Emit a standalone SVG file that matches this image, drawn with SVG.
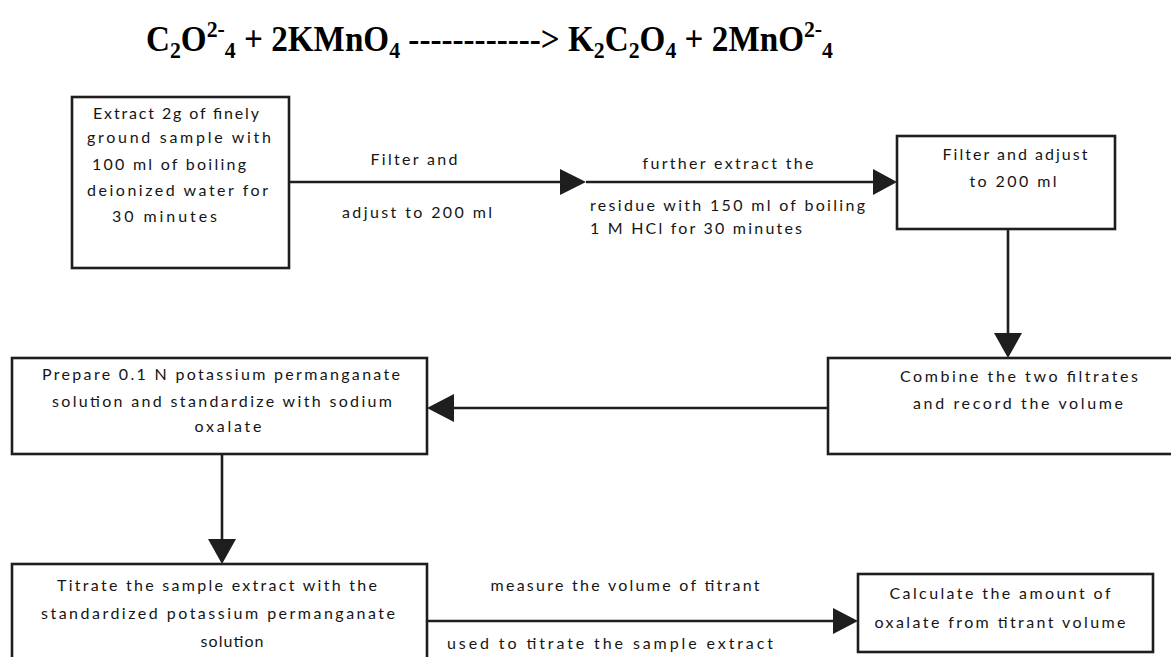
<svg xmlns="http://www.w3.org/2000/svg" width="1171" height="657" viewBox="0 0 1171 657">
<style>
.box{fill:#fff;stroke:#1e1e1e;stroke-width:2.6}
.ln{stroke:#1e1e1e;stroke-width:2.6;fill:none}
.ah{fill:#1e1e1e}
.t{font-family:Lato,"Open Sans",sans-serif;font-size:16px;fill:#151515}
.c{text-anchor:middle}
.eq{font-family:"Liberation Serif","Times New Roman",serif;font-weight:bold;font-size:35px;fill:#000}
.sb{font-size:23px}
</style>
<rect width="1171" height="657" fill="#fff"/>
<text class="eq" x="146" y="51" textLength="687" lengthAdjust="spacingAndGlyphs">C<tspan class="sb" dy="7">2</tspan><tspan dy="-7">O</tspan><tspan class="sb" dy="-14">2-</tspan><tspan class="sb" dy="21">4</tspan><tspan dy="-7"> + 2KMnO</tspan><tspan class="sb" dy="7">4</tspan><tspan dy="-7"> ------------&gt; K</tspan><tspan class="sb" dy="7">2</tspan><tspan dy="-7">C</tspan><tspan class="sb" dy="7">2</tspan><tspan dy="-7">O</tspan><tspan class="sb" dy="7">4</tspan><tspan dy="-7"> + 2MnO</tspan><tspan class="sb" dy="-14">2-</tspan><tspan class="sb" dy="21">4</tspan></text>

<g id="connectors">
<line class="ln" x1="289" y1="182" x2="562" y2="182"/><polygon class="ah" points="560,169 586,182 560,195"/>
<line class="ln" x1="586" y1="182" x2="875" y2="182"/><polygon class="ah" points="873,169 897,182 873,195"/>
<line class="ln" x1="1008" y1="229" x2="1008" y2="335"/><polygon class="ah" points="994,333 1022,333 1008,358"/>
<line class="ln" x1="828" y1="408" x2="452" y2="408"/><polygon class="ah" points="454,394 454,422 427,408"/>
<line class="ln" x1="222" y1="454" x2="222" y2="541"/><polygon class="ah" points="208,539 236,539 222,564"/>
<line class="ln" x1="427" y1="621" x2="835" y2="621"/><polygon class="ah" points="833,608 833,634 858,621"/>
<text class="t c" x="414" y="165" textLength="87" lengthAdjust="spacing">Filter and</text>
<text class="t c" x="417" y="218" textLength="150" lengthAdjust="spacing">adjust to 200 ml</text>
<text class="t c" x="728" y="169" textLength="171" lengthAdjust="spacing">further extract the</text>
<text class="t" x="590" y="211" textLength="275" lengthAdjust="spacing">residue with 150 ml of boiling</text>
<text class="t" x="590" y="234" textLength="212" lengthAdjust="spacing">1 M HCl for 30 minutes</text>
<text class="t c" x="625" y="591" textLength="269" lengthAdjust="spacing">measure the volume of titrant</text>
<text class="t c" x="610" y="649" textLength="326" lengthAdjust="spacing">used to titrate the sample extract</text>
</g>

<g id="n1">
<rect class="box" x="72" y="97" width="217" height="171"/>
<text class="t" x="93" y="119" textLength="166" lengthAdjust="spacing">Extract 2g of finely</text>
<text class="t" x="87" y="143" textLength="184" lengthAdjust="spacing">ground sample with</text>
<text class="t" x="92" y="170" textLength="154" lengthAdjust="spacing">100 ml of boiling</text>
<text class="t" x="87" y="196" textLength="181" lengthAdjust="spacing">deionized water for</text>
<text class="t" x="112" y="222" textLength="105" lengthAdjust="spacing">30 minutes</text>
</g>

<g id="n2">
<rect class="box" x="897" y="136" width="218" height="93"/>
<text class="t c" x="1015" y="160" textLength="145" lengthAdjust="spacing">Filter and adjust</text>
<text class="t c" x="1013" y="187" textLength="87" lengthAdjust="spacing">to 200 ml</text>
</g>

<g id="n3">
<rect class="box" x="828" y="358" width="346" height="96"/>
<text class="t c" x="1019" y="382" textLength="238" lengthAdjust="spacing">Combine the two filtrates</text>
<text class="t c" x="1018" y="409" textLength="210" lengthAdjust="spacing">and record the volume</text>
</g>

<g id="n4">
<rect class="box" x="12" y="358" width="415" height="96"/>
<text class="t c" x="221" y="380" textLength="358" lengthAdjust="spacing">Prepare 0.1 N potassium permanganate</text>
<text class="t c" x="222" y="407" textLength="340" lengthAdjust="spacing">solution and standardize with sodium</text>
<text class="t c" x="228" y="432" textLength="67" lengthAdjust="spacing">oxalate</text>
</g>

<g id="n5">
<rect class="box" x="12" y="564" width="415" height="96"/>
<text class="t c" x="217" y="591" textLength="320" lengthAdjust="spacing">Titrate the sample extract with the</text>
<text class="t c" x="218" y="619" textLength="354" lengthAdjust="spacing">standardized potassium permanganate</text>
<text class="t c" x="232" y="647" textLength="63" lengthAdjust="spacing">solution</text>
</g>

<g id="n6">
<rect class="box" x="858" y="574" width="295" height="78"/>
<text class="t c" x="1000" y="599" textLength="221" lengthAdjust="spacing">Calculate the amount of</text>
<text class="t c" x="1000" y="628" textLength="251" lengthAdjust="spacing">oxalate from titrant volume</text>
</g>
</svg>
